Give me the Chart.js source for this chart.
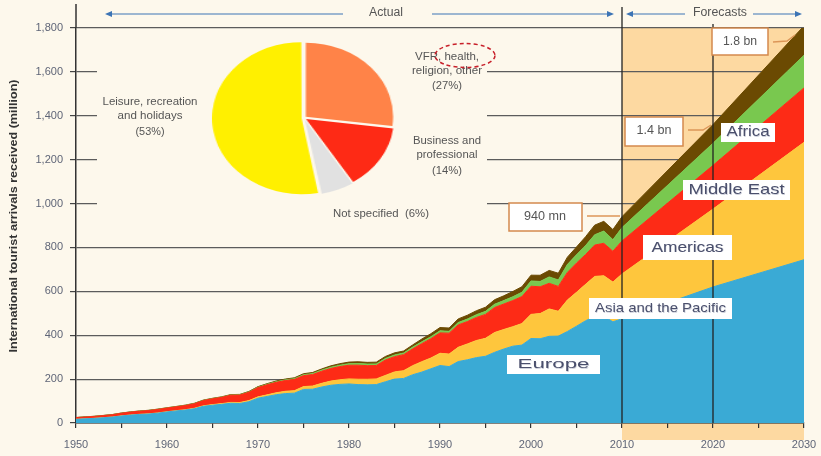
<!DOCTYPE html>
<html>
<head>
<meta charset="utf-8">
<script src="https://cdn.jsdelivr.net/npm/chart.js@4"></script>
<style>
  html, body { margin: 0; padding: 0; background: #fdf8ec; }
  #wrap { position: relative; width: 821px; height: 456px; overflow: hidden; }
  #main { position: absolute; left: 0; top: 0; }
  #pie { position: absolute; left: 226px; top: 40px; transform: scaleX(1.18); transform-origin: 50% 50%; }
</style>
</head>
<body>
<div id="wrap">
  <canvas id="main" width="821" height="456"></canvas>
  <canvas id="pie" width="156" height="156"></canvas>
</div>
<script>
// arrivals by region, million (1950-2010 actual, 2020 and 2030 forecast)
const years = [
  1950, 1951, 1952, 1953, 1954, 1955, 1956, 1957, 1958, 1959,
  1960, 1961, 1962, 1963, 1964, 1965, 1966, 1967, 1968, 1969,
  1970, 1971, 1972, 1973, 1974, 1975, 1976, 1977, 1978, 1979,
  1980, 1981, 1982, 1983, 1984, 1985, 1986, 1987, 1988, 1989,
  1990, 1991, 1992, 1993, 1994, 1995, 1996, 1997, 1998, 1999,
  2000, 2001, 2002, 2003, 2004, 2005, 2006, 2007, 2008, 2009,
  2010, 2020, 2030
];
const europe = [
  16.8, 19.0, 21.0, 24.0, 27.0, 32.0, 36.0, 39.0, 41.0, 45.0,
  50.4, 55.0, 59.0, 65.0, 76.0, 81.0, 85.0, 90.0, 89.0, 97.0,
  113.0, 121.0, 129.0, 134.0, 136.0, 153.0, 154.0, 164.0, 172.0, 176.0,
  178.0, 175.0, 174.0, 175.0, 188.0, 200.0, 203.0, 220.0, 232.0, 247.0,
  262.0, 257.0, 280.0, 288.0, 298.0, 304.0, 322.0, 337.0, 350.0, 355.0,
  385.0, 384.0, 395.0, 396.0, 417.0, 441.0, 466.0, 486.0, 487.0, 461.0,
  475.0, 620.0, 744.0
];
const asiaPacific = [
  0.2, 0.3, 0.3, 0.4, 0.5, 0.6, 0.7, 0.8, 0.9, 1.0,
  1.1, 1.3, 1.6, 2.0, 2.4, 2.9, 3.3, 3.8, 4.3, 5.2,
  6.2, 7.2, 8.8, 10.5, 11.5, 12.9, 14.6, 16.8, 19.0, 21.2,
  23.0, 24.5, 25.3, 26.0, 29.0, 32.9, 35.5, 41.4, 47.5, 49.2,
  55.8, 57.0, 65.0, 72.1, 78.0, 82.0, 90.4, 89.0, 89.0, 98.0,
  110.1, 114.5, 124.9, 113.3, 143.4, 154.6, 166.0, 182.0, 184.1, 181.1,
  204.4, 355.0, 535.0
];
const americas = [
  7.5, 8.0, 8.6, 9.3, 10.4, 12.0, 13.0, 14.0, 15.0, 16.0,
  16.7, 17.5, 19.0, 21.0, 24.0, 26.5, 28.5, 33.0, 34.0, 38.0,
  42.3, 46.0, 47.5, 49.0, 51.0, 50.0, 52.0, 55.0, 57.5, 60.0,
  62.3, 64.0, 62.0, 61.0, 70.0, 69.5, 73.0, 76.5, 82.0, 88.0,
  92.8, 95.3, 102.0, 102.0, 105.0, 109.0, 114.0, 116.0, 119.0, 123.0,
  128.2, 122.2, 116.7, 113.1, 125.8, 133.3, 135.8, 142.9, 147.8, 140.7,
  150.1, 199.0, 248.0
];
const middleEast = [
  0.2, 0.2, 0.3, 0.3, 0.3, 0.4, 0.4, 0.5, 0.5, 0.6,
  0.6, 0.7, 0.8, 0.8, 0.9, 1.0, 1.1, 1.1, 1.3, 1.6,
  1.9, 2.3, 2.8, 3.1, 3.4, 4.0, 4.6, 5.2, 5.9, 6.5,
  7.1, 7.5, 7.3, 7.2, 7.4, 7.5, 7.2, 7.9, 8.6, 9.1,
  9.6, 8.4, 10.9, 11.5, 12.7, 13.7, 14.9, 15.8, 17.2, 19.8,
  24.1, 24.2, 29.2, 29.5, 36.3, 37.8, 40.9, 46.9, 55.6, 52.8,
  60.9, 101.0, 149.0
];
const africa = [
  0.5, 0.5, 0.5, 0.6, 0.6, 0.6, 0.7, 0.7, 0.7, 0.8,
  0.8, 0.9, 1.0, 1.1, 1.2, 1.3, 1.4, 1.5, 1.8, 2.1,
  2.4, 2.8, 3.3, 3.7, 4.1, 4.7, 5.0, 5.5, 6.1, 6.7,
  7.2, 8.0, 7.8, 8.2, 8.9, 9.7, 9.4, 10.1, 12.5, 13.7,
  14.8, 15.1, 16.5, 17.3, 17.9, 18.9, 20.5, 21.7, 23.9, 25.2,
  26.2, 28.3, 29.5, 30.7, 33.3, 35.4, 40.3, 43.9, 44.4, 45.9,
  49.9, 85.0, 134.0
];
const xLabelYears = [1950, 1960, 1970, 1980, 1990, 2000, 2010, 2020, 2030];

// purpose of visit, share in %
const pieLabels = ['VFR, health, religion, other', 'Business and professional', 'Not specified', 'Leisure, recreation and holidays'];
const pieShares = [27, 14, 6, 53];

const FONT = '"Liberation Sans", Arial, sans-serif';
const BG = '#fdf8ec';
Chart.defaults.font.family = FONT;

const series = [
  { label: 'Europe', data: europe, color: '#3aaad5' },
  { label: 'Asia and the Pacific', data: asiaPacific, color: '#fec63d' },
  { label: 'Americas', data: americas, color: '#fd2b16' },
  { label: 'Middle East', data: middleEast, color: '#79c84f' },
  { label: 'Africa', data: africa, color: '#6b4a02' }
];

function txt(ctx, str, cx, cy, size, width, color, bold) {
  ctx.save();
  ctx.font = (bold ? 'bold ' : '') + size + 'px ' + FONT;
  const w = ctx.measureText(str).width;
  const sx = width ? width / w : 1;
  ctx.translate(cx, cy);
  ctx.scale(sx, 1);
  ctx.textAlign = 'center';
  ctx.textBaseline = 'middle';
  ctx.fillStyle = color;
  ctx.fillText(str, 0, 0);
  ctx.restore();
}

function arrow(ctx, xa, xb, y) {
  // line from xa to xb, head at xb
  const dir = xb > xa ? 1 : -1;
  ctx.beginPath();
  ctx.moveTo(xa, y);
  ctx.lineTo(xb - dir * 5, y);
  ctx.stroke();
  ctx.beginPath();
  ctx.moveTo(xb, y);
  ctx.lineTo(xb - dir * 7, y - 3);
  ctx.lineTo(xb - dir * 7, y + 3);
  ctx.closePath();
  ctx.fill();
}

function box(ctx, x, y, w, h, border) {
  ctx.fillStyle = '#ffffff';
  ctx.fillRect(x, y, w, h);
  if (border) {
    ctx.strokeStyle = border;
    ctx.lineWidth = 1.5;
    ctx.strokeRect(x, y, w, h);
  }
}

function poly(ctx, pts) {
  ctx.beginPath();
  ctx.moveTo(pts[0][0], pts[0][1]);
  pts.slice(1).forEach(p => ctx.lineTo(p[0], p[1]));
  ctx.stroke();
}

const decor = {
  id: 'decor',
  beforeDraw(chart) {
    const { ctx, scales: { x, y } } = chart;
    const x0 = x.getPixelForValue(2010), x1 = x.getPixelForValue(2030);
    const top = y.getPixelForValue(1800);
    ctx.save();
    ctx.fillStyle = '#fdd9a1';
    ctx.fillRect(x0, top, x1 - x0, y.bottom + 17 - top);
    ctx.restore();
  },
  beforeDatasetsDraw(chart) {
    // the inset hides the grid lines behind it
    const ctx = chart.ctx;
    ctx.save();
    ctx.fillStyle = BG;
    ctx.fillRect(97, 38, 390, 186);
    ctx.restore();
  },
  afterDraw(chart) {
    const { ctx, scales: { x, y } } = chart;
    ctx.save();

    // y axis runs up past the top tick
    ctx.strokeStyle = '#333';
    ctx.lineWidth = 1.5;
    poly(ctx, [[x.left, 4], [x.left, y.top]]);

    // 2010 and 2020 markers
    ctx.strokeStyle = '#222';
    ctx.lineWidth = 1.3;
    const x2010 = x.getPixelForValue(2010), x2020 = x.getPixelForValue(2020);
    poly(ctx, [[x2010, 7], [x2010, y.bottom]]);
    poly(ctx, [[x2020, 24], [x2020, y.bottom]]);

    // actual / forecasts header
    ctx.strokeStyle = '#3c74b5';
    ctx.fillStyle = '#3c74b5';
    ctx.lineWidth = 1;
    arrow(ctx, 343, 105, 14);
    arrow(ctx, 432, 614, 14);
    arrow(ctx, 685, 626, 14);
    arrow(ctx, 753, 802, 14);
    txt(ctx, 'Actual', 386, 13, 12, 34, '#555');
    txt(ctx, 'Forecasts', 720, 13, 12, 54, '#555');

    // y axis title
    ctx.save();
    ctx.translate(14, 216);
    ctx.rotate(-Math.PI / 2);
    txt(ctx, 'International tourist arrivals received (million)', 0, 0, 11, 273, '#333', true);
    ctx.restore();

    // totals callouts
    ctx.strokeStyle = '#dc9658';
    ctx.lineWidth = 1.3;
    poly(ctx, [[587, 216], [620, 216]]);
    poly(ctx, [[688, 130], [703, 130], [711, 125]]);
    poly(ctx, [[773, 42], [787, 41], [795, 35]]);
    box(ctx, 509, 203, 73, 28, '#d4894d');
    box(ctx, 625, 117, 58, 29, '#d4894d');
    box(ctx, 712, 28, 56, 27, '#d4894d');
    txt(ctx, '940 mn', 545, 217, 12, 42, '#555');
    txt(ctx, '1.4 bn', 654, 131, 12, 35, '#555');
    txt(ctx, '1.8 bn', 740, 42, 12, 34, '#555');

    // region labels
    const regionLabels = [
      ['Africa', 721, 123, 54, 19, 14, 43],
      ['Middle East', 683, 180, 107, 20, 15, 96],
      ['Americas', 643, 235, 89, 25, 15, 72],
      ['Asia and the Pacific', 589, 298, 143, 21, 13, 131],
      ['Europe', 507, 355, 93, 19, 13, 72]
    ];
    regionLabels.forEach(([s, bx, by, bw, bh, fs, tw]) => {
      box(ctx, bx, by, bw, bh);
      txt(ctx, s, bx + bw / 2 + 0.6, by + bh / 2 + 0.8, fs, tw, 'rgba(160,165,185,0.5)');
      txt(ctx, s, bx + bw / 2, by + bh / 2, fs, tw, '#4a4f6c');
    });

    // pie labels
    const c = '#555';
    txt(ctx, 'Leisure, recreation', 150, 102, 10, 95, c);
    txt(ctx, 'and holidays', 150, 116, 10, 65, c);
    txt(ctx, '(53%)', 150, 132, 10, 29, c);
    txt(ctx, 'VFR, health,', 447, 57, 10, 64, c);
    txt(ctx, 'religion, other', 447, 71, 10, 70, c);
    txt(ctx, '(27%)', 447, 86, 10, 30, c);
    txt(ctx, 'Business and', 447, 141, 10, 68, c);
    txt(ctx, 'professional', 447, 155, 10, 61, c);
    txt(ctx, '(14%)', 447, 171, 10, 30, c);
    txt(ctx, 'Not specified  (6%)', 381, 214, 10, 96, c);

    ctx.strokeStyle = '#c8202a';
    ctx.lineWidth = 1.5;
    ctx.setLineDash([4, 3]);
    ctx.beginPath();
    ctx.ellipse(465, 55.5, 30, 12, 0, 0, Math.PI * 2);
    ctx.stroke();
    ctx.setLineDash([]);

    ctx.restore();
  }
};

new Chart(document.getElementById('main'), {
  type: 'line',
  data: {
    datasets: series.map((s, i) => ({
      label: s.label,
      data: years.map((yr, j) => ({ x: yr, y: s.data[j] })),
      backgroundColor: s.color,
      borderColor: s.color,
      borderWidth: 1,
      pointRadius: 0,
      tension: 0,
      fill: i === 0 ? 'origin' : '-1'
    }))
  },
  options: {
    responsive: false,
    animation: false,
    layout: { padding: { top: 28, right: 17, left: 0, bottom: 0 } },
    plugins: { legend: { display: false }, tooltip: { enabled: false } },
    scales: {
      x: {
        type: 'linear',
        min: 1950,
        max: 2030,
        afterFit: s => { s.height = 33; s.paddingLeft = 0; s.paddingRight = 0; },
        border: { color: '#333', width: 1.5 },
        grid: { drawOnChartArea: false, drawTicks: true, tickLength: 5, color: '#333', lineWidth: 1.2 },
        ticks: {
          stepSize: 5,
          autoSkip: false,
          maxRotation: 0,
          padding: 10,
          color: '#5f6577',
          font: { size: 11 },
          callback: v => xLabelYears.includes(v) ? String(v) : ''
        }
      },
      y: {
        stacked: true,
        min: 0,
        max: 1800,
        afterFit: s => { s.width = 76; s.paddingTop = 0; s.paddingBottom = 0; },
        border: { color: '#333', width: 1.5 },
        grid: { color: '#5c5c5c', lineWidth: 1.2, tickLength: 6, tickColor: '#444' },
        ticks: {
          stepSize: 200,
          padding: 7,
          color: '#5f6577',
          font: { size: 11 },
          callback: v => v.toLocaleString('en-US')
        }
      }
    }
  },
  plugins: [decor]
});

new Chart(document.getElementById('pie'), {
  type: 'pie',
  data: {
    labels: pieLabels,
    datasets: [{
      data: pieShares,
      backgroundColor: ['#ff8348', '#fe2a15', '#e1e1e1', '#fff000'],
      borderWidth: 0,
      offset: 8,
      hoverOffset: 0
    }]
  },
  options: {
    responsive: false,
    animation: false,
    plugins: { legend: { display: false }, tooltip: { enabled: false } }
  }
});
</script>
</body>
</html>
